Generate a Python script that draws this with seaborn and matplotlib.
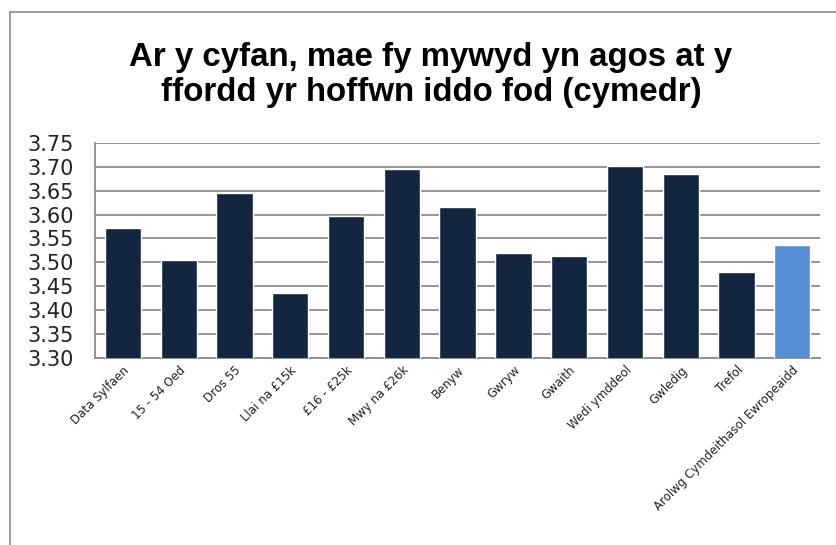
import matplotlib
matplotlib.use("Agg")
import matplotlib.pyplot as plt
import seaborn as sns
import pandas as pd
from matplotlib.lines import Line2D

# ======================
# Data
# ======================
categories = [
    "Data Sylfaen", "15 - 54 Oed", "Dros 55", "Llai na £15k", "£16 - £25k",
    "Mwy na £26k", "Benyw", "Gwryw", "Gwaith", "Wedi ymddeol", "Gwledig",
    "Trefol", "Arolwg Cymdeithasol Ewropeaidd",
]
means = [3.571, 3.504, 3.645, 3.435, 3.598, 3.695, 3.616,
         3.520, 3.513, 3.701, 3.684, 3.479, 3.537]
bar_colors = ["#13263f"] * 12 + ["#558ed5"]
y_ticks = [3.30, 3.35, 3.40, 3.45, 3.50, 3.55, 3.60, 3.65, 3.70, 3.75]
title = "Ar y cyfan, mae fy mywyd yn agos at y\nffordd yr hoffwn iddo fod (cymedr)"

df = pd.DataFrame({"category": categories, "mean": means})

sns.set_style("white")
plt.rcParams["font.family"] = ["DejaVu Sans"]

fig = plt.figure(figsize=(8.37, 5.45), dpi=100)
ax = fig.add_axes([0.1135, 0.343, 0.8665, 0.395])

sns.barplot(data=df, x="category", y="mean", hue="category",
            palette=bar_colors, legend=False, width=0.65, ax=ax,
            saturation=1, zorder=3)

ax.set_ylim(3.30, 3.75)
ax.set_xlim(-0.5, len(categories) - 0.5)
ax.set_yticks(y_ticks)
ax.set_yticklabels([f"{t:.2f}" for t in y_ticks], fontsize=15,
                   color="#222222", ha="left")
ax.tick_params(axis="y", length=0, pad=49)
ax.tick_params(axis="x", length=0, pad=4)
ax.set_xticks(range(len(categories)))
ax.set_xticklabels(categories, rotation=45, ha="right",
                   rotation_mode="anchor", fontsize=8.5, color="#222222")
ax.set_xlabel("")
ax.set_ylabel("")

ax.yaxis.grid(True, color="#8c8c8c", linewidth=1.3, zorder=0)
ax.set_axisbelow(True)
for side in ["top", "right"]:
    ax.spines[side].set_visible(False)
for side in ["left", "bottom"]:
    ax.spines[side].set_color("#8c8c8c")
    ax.spines[side].set_linewidth(1.3)

fig.text(0.515, 0.862, title, ha="center", va="center", fontsize=23.8,
         fontweight="bold", family="Liberation Sans", linespacing=1.15,
         color="black")

# chart area border (top and left edges visible)
fig.add_artist(Line2D([10 / 837, 10 / 837], [0, 1 - 12 / 545],
                      color="#8c8c8c", linewidth=1.2))
fig.add_artist(Line2D([10 / 837, 1], [1 - 12 / 545, 1 - 12 / 545],
                      color="#8c8c8c", linewidth=1.2))

fig.savefig("out.png", dpi=100)
